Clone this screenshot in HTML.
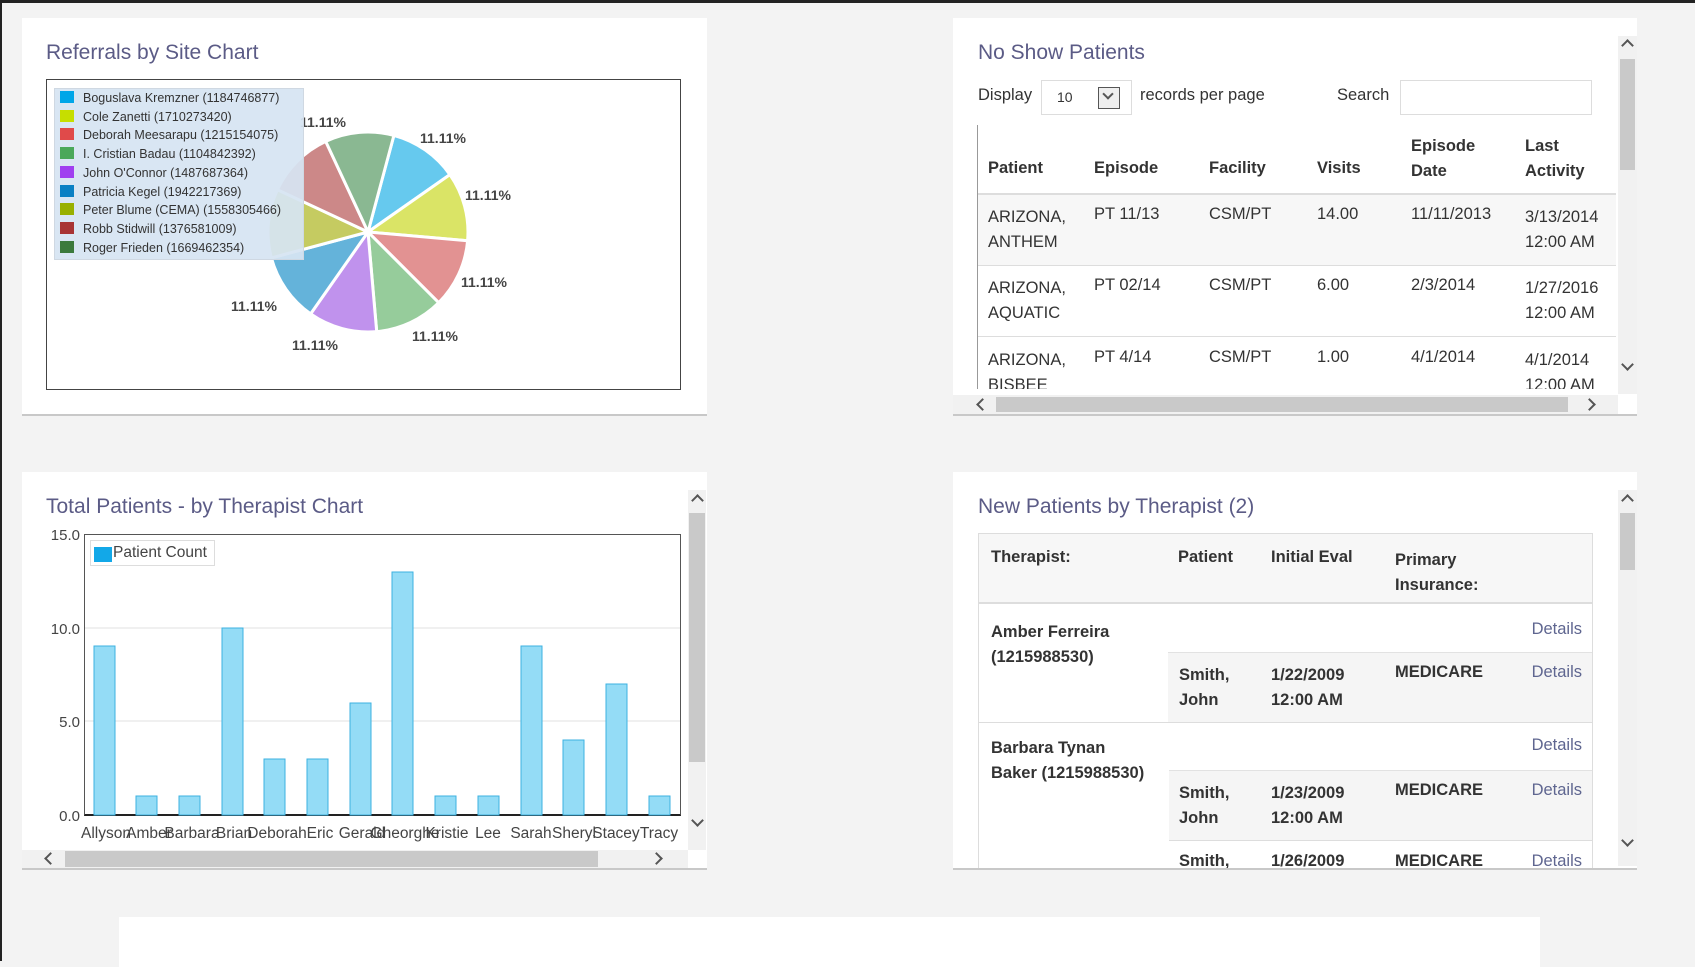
<!DOCTYPE html>
<html><head><meta charset="utf-8"><style>
*{margin:0;padding:0;box-sizing:border-box}
body{width:1695px;height:961px;background:#f3f3f3;font-family:"Liberation Sans",sans-serif;color:#333;position:relative;overflow:hidden}
.a{position:absolute;white-space:nowrap}
.panel{position:absolute;background:#fff;box-shadow:0 2px 0 #c8c8c8}
.title{position:absolute;font-size:21px;color:#5b5b86}
.t{font-size:16.5px;color:#333}
.b{font-weight:bold}
.sbv{position:absolute;background:#f1f1f1}
.thumb{position:absolute;background:#c9c9c9}
.ch{position:absolute;width:9px;height:9px;border-left:2px solid #555;border-top:2px solid #555}
.up{transform:rotate(45deg)}
.dn{transform:rotate(225deg)}
.lf{transform:rotate(-45deg)}
.rt{transform:rotate(135deg)}
</style></head><body>
<div class="a" style="left:0;top:0;width:1695px;height:3px;background:#222"></div>
<div class="a" style="left:0;top:0;width:2px;height:961px;background:#222"></div>

<!-- Panel 1 -->
<div class="panel" style="left:22px;top:18px;width:685px;height:396px"></div>
<div class="title a" style="left:46px;top:41px">Referrals by Site Chart</div>
<div class="a" style="left:46px;top:79px;width:635px;height:311px;border:1px solid #444;background:#fff"></div>
<svg class="a" style="left:0;top:0" width="720" height="420">
<g transform="translate(368,232)" stroke="#fff" stroke-width="3" opacity="0.85">
<path d="M0 0L25.9 -96.6A100 100 0 0 1 81.9 -57.4Z" fill="#4cc0ec"/>
<path d="M0 0L81.9 -57.4A100 100 0 0 1 99.6 8.7Z" fill="#d4e04c"/>
<path d="M0 0L99.6 8.7A100 100 0 0 1 70.7 70.7Z" fill="#dd8080"/>
<path d="M0 0L70.7 70.7A100 100 0 0 1 8.7 99.6Z" fill="#84c48a"/>
<path d="M0 0L8.7 99.6A100 100 0 0 1 -57.4 81.9Z" fill="#b680ea"/>
<path d="M0 0L-57.4 81.9A100 100 0 0 1 -96.6 25.9Z" fill="#4aa6d4"/>
<path d="M0 0L-96.6 25.9A100 100 0 0 1 -90.6 -42.3Z" fill="#bcc246"/>
<path d="M0 0L-90.6 -42.3A100 100 0 0 1 -42.3 -90.6Z" fill="#c47474"/>
<path d="M0 0L-42.3 -90.6A100 100 0 0 1 25.9 -96.6Z" fill="#76ac80"/>
</g>
<g font-family="Liberation Sans" font-size="14" font-weight="bold" fill="#444">
<text x="420" y="143">11.11%</text><text x="465" y="200">11.11%</text>
<text x="461" y="287">11.11%</text><text x="412" y="341">11.11%</text>
<text x="292" y="350">11.11%</text><text x="231" y="311">11.11%</text>
<text x="300" y="127">11.11%</text>
</g>
</svg>
<div class="a" style="left:54px;top:88px;width:250px;height:172px;background:rgba(214,228,242,0.93);border:1px solid #cfd8e2"></div>
<div class="a" style="left:60px;top:89px;font-size:12.5px;color:#333;line-height:18.7px">
<div><span style="display:inline-block;width:14px;height:12px;background:#00a6e8;vertical-align:-1px;margin-right:9px"></span>Boguslava Kremzner (1184746877)</div>
<div><span style="display:inline-block;width:14px;height:12px;background:#c6de00;vertical-align:-1px;margin-right:9px"></span>Cole Zanetti (1710273420)</div>
<div><span style="display:inline-block;width:14px;height:12px;background:#e04a4a;vertical-align:-1px;margin-right:9px"></span>Deborah Meesarapu (1215154075)</div>
<div><span style="display:inline-block;width:14px;height:12px;background:#4aa85a;vertical-align:-1px;margin-right:9px"></span>I. Cristian Badau (1104842392)</div>
<div><span style="display:inline-block;width:14px;height:12px;background:#a040f0;vertical-align:-1px;margin-right:9px"></span>John O'Connor (1487687364)</div>
<div><span style="display:inline-block;width:14px;height:12px;background:#0a80c4;vertical-align:-1px;margin-right:9px"></span>Patricia Kegel (1942217369)</div>
<div><span style="display:inline-block;width:14px;height:12px;background:#98b000;vertical-align:-1px;margin-right:9px"></span>Peter Blume (CEMA) (1558305466)</div>
<div><span style="display:inline-block;width:14px;height:12px;background:#a83434;vertical-align:-1px;margin-right:9px"></span>Robb Stidwill (1376581009)</div>
<div><span style="display:inline-block;width:14px;height:12px;background:#3c7a3c;vertical-align:-1px;margin-right:9px"></span>Roger Frieden (1669462354)</div>
</div>

<!-- Panel 2 -->
<div class="panel" style="left:953px;top:18px;width:684px;height:396px"></div>
<div class="title a" style="left:978px;top:41px">No Show Patients</div>
<div class="a t" style="left:978px;top:86px">Display</div>
<div class="a" style="left:1041px;top:80px;width:91px;height:35px;border:1px solid #ddd;background:#fff"></div>
<div class="a" style="left:1057px;top:89px;font-size:14px">10</div>
<div class="a" style="left:1098px;top:87px;width:22px;height:22px;border:1px solid #555;background:#eee"></div>
<div class="ch dn" style="left:1104px;top:90px;width:8px;height:8px"></div>
<div class="a t" style="left:1140px;top:86px">records per page</div>
<div class="a t" style="left:1337px;top:86px">Search</div>
<div class="a" style="left:1400px;top:80px;width:192px;height:35px;border:1px solid #ddd;background:#fff"></div>
<div class="a" style="left:977px;top:125px;width:1px;height:264px;background:#999"></div>
<div class="a" style="left:978px;top:193px;width:638px;height:2px;background:#ddd"></div>
<div class="a" style="left:978px;top:195px;width:638px;height:70px;background:#f7f7f7"></div>
<div class="a" style="left:978px;top:265px;width:638px;height:1px;background:#ddd"></div>
<div class="a" style="left:978px;top:336px;width:638px;height:1px;background:#ddd"></div>
<div class="a t b" style="left:988px;top:159px">Patient</div>
<div class="a t b" style="left:1094px;top:159px">Episode</div>
<div class="a t b" style="left:1209px;top:159px">Facility</div>
<div class="a t b" style="left:1317px;top:159px">Visits</div>
<div class="a t b" style="left:1411px;top:134px;line-height:25px">Episode<br>Date</div>
<div class="a t b" style="left:1525px;top:134px;line-height:25px">Last<br>Activity</div>
<div class="a t" style="left:988px;top:205px;line-height:25px">ARIZONA,<br>ANTHEM</div>
<div class="a t" style="left:1094px;top:205px">PT 11/13</div>
<div class="a t" style="left:1209px;top:205px">CSM/PT</div>
<div class="a t" style="left:1317px;top:205px">14.00</div>
<div class="a t" style="left:1411px;top:205px">11/11/2013</div>
<div class="a t" style="left:1525px;top:205px;line-height:25px">3/13/2014<br>12:00 AM</div>
<div class="a t" style="left:988px;top:276px;line-height:25px">ARIZONA,<br>AQUATIC</div>
<div class="a t" style="left:1094px;top:276px">PT 02/14</div>
<div class="a t" style="left:1209px;top:276px">CSM/PT</div>
<div class="a t" style="left:1317px;top:276px">6.00</div>
<div class="a t" style="left:1411px;top:276px">2/3/2014</div>
<div class="a t" style="left:1525px;top:276px;line-height:25px">1/27/2016<br>12:00 AM</div>
<div class="a" style="left:978px;top:337px;width:638px;height:52px;overflow:hidden">
<div class="a t" style="left:10px;top:11px;line-height:25px">ARIZONA,<br>BISBEE</div>
<div class="a t" style="left:116px;top:11px">PT 4/14</div>
<div class="a t" style="left:231px;top:11px">CSM/PT</div>
<div class="a t" style="left:339px;top:11px">1.00</div>
<div class="a t" style="left:433px;top:11px">4/1/2014</div>
<div class="a t" style="left:547px;top:11px;line-height:25px">4/1/2014<br>12:00 AM</div>
</div>
<div class="sbv" style="left:953px;top:395px;width:665px;height:19px"></div>
<div class="thumb" style="left:996px;top:397px;width:572px;height:15px"></div>
<div class="ch lf" style="left:978px;top:400px"></div>
<div class="ch rt" style="left:1585px;top:400px"></div>
<div class="sbv" style="left:1618px;top:36px;width:19px;height:358px"></div>
<div class="thumb" style="left:1620px;top:59px;width:15px;height:111px"></div>
<div class="ch up" style="left:1623px;top:41px"></div>
<div class="ch dn" style="left:1623px;top:360px"></div>

<!-- Panel 3 -->
<div class="panel" style="left:22px;top:472px;width:685px;height:396px"></div>
<div class="title a" style="left:46px;top:495px">Total Patients - by Therapist Chart</div>
<div class="a" style="left:84px;top:534px;width:597px;height:282px;border:1px solid #555;border-bottom:2px solid #222;background:#fff"></div>
<svg class="a" style="left:0;top:0" width="720" height="870">
<g stroke="#e2e2e2"><line x1="85" y1="628" x2="680" y2="628"/><line x1="85" y1="721" x2="680" y2="721"/></g>
<g fill="#94dcf6" stroke="#3cb2e0" stroke-width="1">
<rect x="94" y="646" width="21" height="169"/>
<rect x="136" y="796" width="21" height="19"/>
<rect x="179" y="796" width="21" height="19"/>
<rect x="222" y="628" width="21" height="187"/>
<rect x="264" y="759" width="21" height="56"/>
<rect x="307" y="759" width="21" height="56"/>
<rect x="350" y="703" width="21" height="112"/>
<rect x="392" y="572" width="21" height="243"/>
<rect x="435" y="796" width="21" height="19"/>
<rect x="478" y="796" width="21" height="19"/>
<rect x="521" y="646" width="21" height="169"/>
<rect x="563" y="740" width="21" height="75"/>
<rect x="606" y="684" width="21" height="131"/>
<rect x="649" y="796" width="21" height="19"/>
</g>
<g font-family="Liberation Sans" font-size="15" fill="#444" text-anchor="end">
<text x="80" y="540">15.0</text><text x="80" y="634">10.0</text><text x="80" y="727">5.0</text><text x="80" y="821">0.0</text>
</g>
<g font-family="Liberation Sans" font-size="15.5" fill="#444" text-anchor="middle">
<text x="106" y="838">Allyson</text><text x="149" y="838">Amber</text><text x="192" y="838">Barbara</text><text x="234" y="838">Brian</text>
<text x="277" y="838">Deborah</text><text x="320" y="838">Eric</text><text x="362" y="838">Gerald</text><text x="405" y="838">Gheorghe</text>
<text x="447" y="838">Kristie</text><text x="488" y="838">Lee</text><text x="531" y="838">Sarah</text><text x="574" y="838">Sheryl</text>
<text x="616" y="838">Stacey</text><text x="659" y="838">Tracy</text>
</g>
</svg>
<div class="a" style="left:90px;top:540px;width:125px;height:26px;border:1px solid #ddd;background:#fff"></div>
<div class="a" style="left:94px;top:547px;width:18px;height:15px;background:#12a8e8"></div>
<div class="a" style="left:113px;top:544px;font-size:15.5px;color:#444">Patient Count</div>
<div class="sbv" style="left:22px;top:850px;width:666px;height:18px"></div>
<div class="thumb" style="left:65px;top:851px;width:533px;height:16px"></div>
<div class="ch lf" style="left:46px;top:854px"></div>
<div class="ch rt" style="left:652px;top:854px"></div>
<div class="sbv" style="left:688px;top:490px;width:18px;height:360px"></div>
<div class="thumb" style="left:689px;top:513px;width:16px;height:249px"></div>
<div class="ch up" style="left:693px;top:496px"></div>
<div class="ch dn" style="left:693px;top:816px"></div>

<!-- Panel 4 -->
<div class="panel" style="left:953px;top:472px;width:684px;height:396px"></div>
<div class="title a" style="left:978px;top:495px">New Patients by Therapist (2)</div>
<div class="a" style="left:978px;top:533px;width:615px;height:335px;border:1px solid #ddd;border-bottom:none;overflow:hidden;background:#fff">
<div class="a" style="left:0;top:0;width:615px;height:70px;background:#f7f7f7;border-bottom:2px solid #ddd"></div>
<div class="a t b" style="left:12px;top:14px">Therapist:</div>
<div class="a t b" style="left:199px;top:14px">Patient</div>
<div class="a t b" style="left:292px;top:14px">Initial Eval</div>
<div class="a t b" style="left:416px;top:14px;line-height:25px">Primary<br>Insurance:</div>
<div class="a t b" style="left:12px;top:86px;line-height:25px">Amber Ferreira<br>(1215988530)</div>
<div class="a t" style="right:10px;top:86px;color:#5f6690">Details</div>
<div class="a" style="left:189px;top:118px;width:426px;height:70px;background:#f5f5f5;border-top:1px solid #e2e2e2"></div>
<div class="a t b" style="left:200px;top:129px;line-height:25px">Smith,<br>John</div>
<div class="a t b" style="left:292px;top:129px;line-height:25px">1/22/2009<br>12:00 AM</div>
<div class="a t b" style="left:416px;top:129px">MEDICARE</div>
<div class="a t" style="right:10px;top:129px;color:#5f6690">Details</div>
<div class="a" style="left:0;top:188px;width:615px;height:1px;background:#ddd"></div>
<div class="a t b" style="left:12px;top:202px;line-height:25px">Barbara Tynan<br>Baker (1215988530)</div>
<div class="a t" style="right:10px;top:202px;color:#5f6690">Details</div>
<div class="a" style="left:190px;top:236px;width:425px;height:70px;background:#f5f5f5;border-top:1px solid #e2e2e2"></div>
<div class="a t b" style="left:200px;top:247px;line-height:25px">Smith,<br>John</div>
<div class="a t b" style="left:292px;top:247px;line-height:25px">1/23/2009<br>12:00 AM</div>
<div class="a t b" style="left:416px;top:247px">MEDICARE</div>
<div class="a t" style="right:10px;top:247px;color:#5f6690">Details</div>
<div class="a" style="left:190px;top:306px;width:425px;height:1px;background:#ddd"></div>
<div class="a t b" style="left:200px;top:318px">Smith,</div>
<div class="a t b" style="left:292px;top:318px">1/26/2009</div>
<div class="a t b" style="left:416px;top:318px">MEDICARE</div>
<div class="a t" style="right:10px;top:318px;color:#5f6690">Details</div>
</div>
<div class="sbv" style="left:1618px;top:490px;width:19px;height:376px"></div>
<div class="thumb" style="left:1620px;top:513px;width:15px;height:57px"></div>
<div class="ch up" style="left:1623px;top:496px"></div>
<div class="ch dn" style="left:1623px;top:836px"></div>

<!-- bottom panel -->
<div class="a" style="left:119px;top:917px;width:1421px;height:50px;background:#fff"></div>
</body></html>
